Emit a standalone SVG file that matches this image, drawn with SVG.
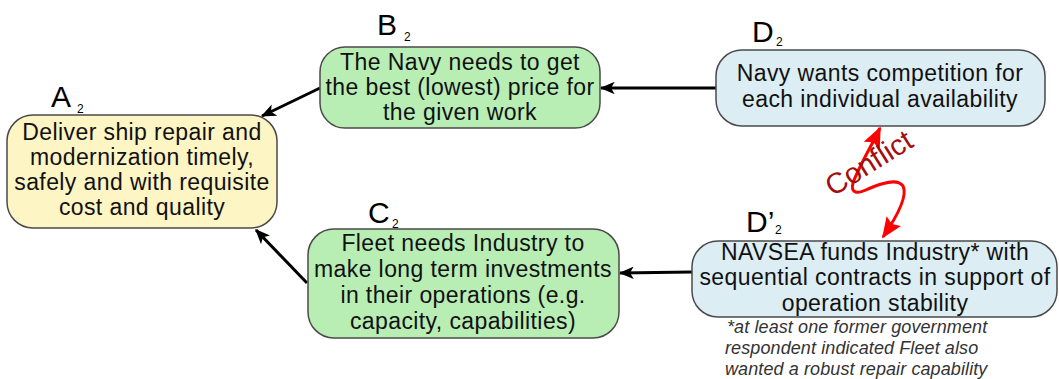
<svg xmlns="http://www.w3.org/2000/svg" width="1059" height="379" viewBox="0 0 1059 379">
  <style>
    .box { stroke: #4a4a4a; stroke-width: 1.5; }
    .yellow { fill: #fdf5c4; }
    .green { fill: #b8eeb4; }
    .blue { fill: #dcedf3; }
    .txt { font-family: "Liberation Sans", Arial, sans-serif; font-size: 23px; letter-spacing: 0.4px; fill: #111; text-anchor: middle; }
    .lbl { font-family: "Liberation Sans", Arial, sans-serif; font-size: 30px; fill: #000; }
    .sub { font-family: "Liberation Sans", Arial, sans-serif; font-size: 12px; fill: #000; }
    .note { font-family: "Liberation Sans", Arial, sans-serif; font-size: 18px; letter-spacing: 0.1px; font-style: italic; fill: #333; }
    .conn { stroke: #000; stroke-width: 3; fill: none; marker-end: url(#arrow); }
    .conflict { stroke: #ff0000; stroke-width: 3; fill: none; marker-start: url(#redStart); marker-end: url(#redEnd); }
  </style>
  <defs>
    <marker id="arrow" viewBox="0 0 12 10" refX="11" refY="5" markerWidth="5" markerHeight="4.2" orient="auto" markerUnits="strokeWidth">
      <path d="M0,0 L12,5 L0,10 L3,5 Z" fill="#000"/>
    </marker>
    <marker id="redEnd" viewBox="0 0 12 10" refX="11" refY="5" markerWidth="7" markerHeight="6" orient="auto" markerUnits="strokeWidth">
      <path d="M0,0 L12,5 L0,10 L2,5 Z" fill="#ff0000"/>
    </marker>
    <marker id="redStart" viewBox="0 0 12 10" refX="1" refY="5" markerWidth="7" markerHeight="6" orient="auto" markerUnits="strokeWidth">
      <path d="M12,0 L0,5 L12,10 L10,5 Z" fill="#ff0000"/>
    </marker>
  </defs>

  <!-- connectors -->
  <g id="connectors">
    <line class="conn" x1="320" y1="88" x2="262" y2="116"/>
    <line class="conn" x1="307" y1="283" x2="256" y2="230"/>
    <line class="conn" x1="716" y1="88" x2="601" y2="88"/>
    <line class="conn" x1="692" y1="272" x2="620" y2="273"/>
    <path class="conflict" d="M880,128 C872,145 858,168 853,183 C850,194 858,194 868,189 C882,183 897,178 903,186 C908,196 898,215 883,237"/>
    <text x="0" y="0" transform="translate(833,197) rotate(-32)" font-family="Liberation Sans, Arial, sans-serif" font-size="29" fill="#a50d0d">Conflict</text>
  </g>

  <!-- A2 -->
  <g id="nodeA">
    <rect class="box yellow" x="7" y="115" width="270" height="113" rx="26"/>
    <text class="txt" x="142" y="140">Deliver ship repair and</text>
    <text class="txt" x="142" y="165">modernization timely,</text>
    <text class="txt" x="142" y="190">safely and with requisite</text>
    <text class="txt" x="142" y="215">cost and quality</text>
    <text class="lbl" x="51" y="107">A</text>
    <text class="sub" x="77" y="113">2</text>
  </g>

  <!-- B2 -->
  <g id="nodeB">
    <rect class="box green" x="320" y="47" width="280" height="81" rx="25"/>
    <text class="txt" x="460" y="70">The Navy needs to get</text>
    <text class="txt" x="460" y="95">the best (lowest) price for</text>
    <text class="txt" x="460" y="120">the given work</text>
    <text class="lbl" x="377" y="35">B</text>
    <text class="sub" x="404" y="41">2</text>
  </g>

  <!-- C2 -->
  <g id="nodeC">
    <rect class="box green" x="308" y="229" width="311" height="109" rx="26"/>
    <text class="txt" x="463" y="251">Fleet needs Industry to</text>
    <text class="txt" x="463" y="277">make long term investments</text>
    <text class="txt" x="463" y="303">in their operations (e.g.</text>
    <text class="txt" x="463" y="329">capacity, capabilities)</text>
    <text class="lbl" x="368" y="223">C</text>
    <text class="sub" x="392" y="228">2</text>
  </g>

  <!-- D2 -->
  <g id="nodeD">
    <rect class="box blue" x="716" y="50" width="329" height="76" rx="26"/>
    <text class="txt" x="880" y="81">Navy wants competition for</text>
    <text class="txt" x="880" y="107">each individual availability</text>
    <text class="lbl" x="752" y="42">D</text>
    <text class="sub" x="776" y="46">2</text>
  </g>

  <!-- D'2 -->
  <g id="nodeDprime">
    <rect class="box blue" x="692" y="241" width="365" height="76" rx="26"/>
    <text class="txt" x="875" y="260">NAVSEA funds Industry* with</text>
    <text class="txt" x="875" y="285">sequential contracts in support of</text>
    <text class="txt" x="875" y="311">operation stability</text>
    <text class="lbl" x="746" y="232">D’</text>
    <text class="sub" x="775" y="234">2</text>
    <text class="note" x="727" y="333">*at least one former government</text>
    <text class="note" x="725" y="354">respondent indicated Fleet also</text>
    <text class="note" x="725" y="375">wanted a robust repair capability</text>
  </g>
</svg>
